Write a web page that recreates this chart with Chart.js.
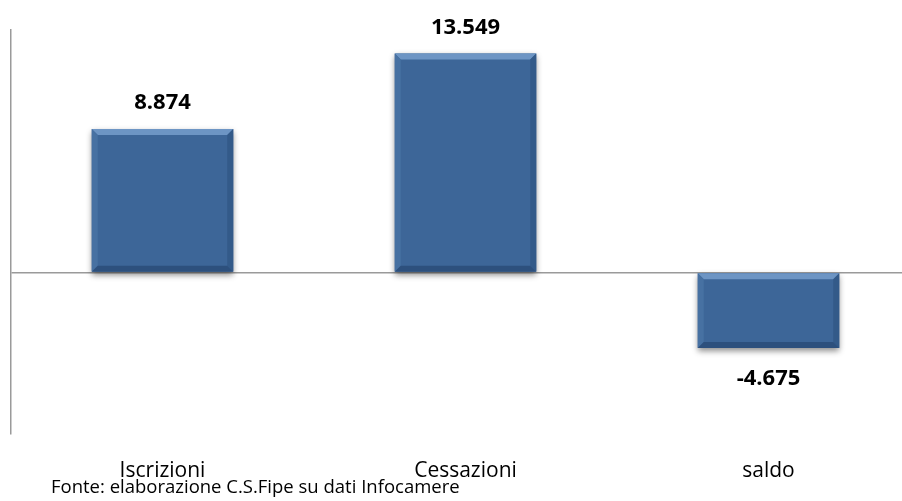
<!DOCTYPE html>
<html>
<head>
<meta charset="utf-8">
<script src="https://cdn.jsdelivr.net/npm/chart.js@4/dist/chart.umd.min.js"></script>
<style>
    html, body { margin: 0; padding: 0; background: #fff; overflow: hidden; }
    #wrap { position: relative; width: 920px; height: 501px; }
    #chart { display: block; }
    #source {
        position: absolute; left: 51px; top: 474px;
        font-family: "Open Sans", sans-serif; font-size: 18.5px; color: #000;
        white-space: nowrap; line-height: 24px;
    }
</style>
</head>
<body>
<div id="wrap">
    <canvas id="chart"></canvas>
    <div id="source">Fonte: elaborazione C.S.Fipe su dati Infocamere</div>
</div>
<script>
// Data
const categories = ['Iscrizioni', 'Cessazioni', 'saldo'];
const values = [8874, 13549, -4675];
const axisMin = -10000;
const axisMax = 15000;

function fmt(v) {
    return v.toLocaleString('it-IT');
}

// Bevel look like the office chart
const bevelPlugin = {
    id: 'bevel',
    beforeDatasetsDraw(chart) {
        const ctx = chart.ctx;
        chart.getDatasetMeta(0).data.forEach(function(bar) {
            const left = bar.x - bar.width / 2;
            const top = Math.min(bar.y, bar.base);
            const h = Math.abs(bar.base - bar.y);
            ctx.save();
            ctx.shadowColor = 'rgba(0,0,0,0.45)';
            ctx.shadowBlur = 6;
            ctx.shadowOffsetY = 3;
            ctx.fillStyle = '#3d6698';
            ctx.fillRect(left, top, bar.width, h);
            ctx.restore();
        });
    },
    afterDatasetsDraw(chart) {
        const ctx = chart.ctx;
        const b = 6;
        chart.getDatasetMeta(0).data.forEach(function(bar) {
            const l = bar.x - bar.width / 2;
            const r = bar.x + bar.width / 2;
            const t = Math.min(bar.y, bar.base);
            const btm = Math.max(bar.y, bar.base);
            ctx.save();
            // top
            ctx.fillStyle = '#6d95c4';
            ctx.beginPath();
            ctx.moveTo(l, t); ctx.lineTo(r, t); ctx.lineTo(r - b, t + b); ctx.lineTo(l + b, t + b);
            ctx.closePath(); ctx.fill();
            // left
            ctx.fillStyle = '#4771a2';
            ctx.beginPath();
            ctx.moveTo(l, t); ctx.lineTo(l + b, t + b); ctx.lineTo(l + b, btm - b); ctx.lineTo(l, btm);
            ctx.closePath(); ctx.fill();
            // right
            ctx.fillStyle = '#335a89';
            ctx.beginPath();
            ctx.moveTo(r, t); ctx.lineTo(r - b, t + b); ctx.lineTo(r - b, btm - b); ctx.lineTo(r, btm);
            ctx.closePath(); ctx.fill();
            // bottom
            ctx.fillStyle = '#2d507d';
            ctx.beginPath();
            ctx.moveTo(l, btm); ctx.lineTo(l + b, btm - b); ctx.lineTo(r - b, btm - b); ctx.lineTo(r, btm);
            ctx.closePath(); ctx.fill();
            ctx.restore();
        });
        // value labels
        ctx.save();
        ctx.font = 'bold 22px "Open Sans", sans-serif';
        ctx.fillStyle = '#000';
        ctx.textAlign = 'center';
        ctx.textBaseline = 'middle';
        chart.getDatasetMeta(0).data.forEach(function(bar, i) {
            const v = values[i];
            const y = v >= 0 ? bar.y - 26 : bar.y + 31;
            ctx.fillText(fmt(v), bar.x, y);
        });
        ctx.restore();
    }
};

function initChart() {
    const ctx = document.getElementById('chart').getContext('2d');
    new Chart(ctx, {
        type: 'bar',
        data: {
            labels: categories,
            datasets: [{
                data: values,
                backgroundColor: 'rgba(0,0,0,0)',
                borderWidth: 0,
                categoryPercentage: 1,
                barPercentage: 0.467
            }]
        },
        options: {
            responsive: false,
            animation: false,
            events: [],
            layout: { padding: { top: 30, left: 11, right: 0, bottom: 0 } },
            plugins: {
                legend: { display: false },
                tooltip: { enabled: false }
            },
            scales: {
                x: {
                    grid: { display: false, drawTicks: false },
                    border: { display: false },
                    afterFit: function(scale) { scale.height = 67; },
                    ticks: {
                        color: '#000',
                        padding: 24,
                        maxRotation: 0,
                        font: { family: '"Open Sans", sans-serif', size: 21 }
                    }
                },
                y: {
                    min: axisMin,
                    max: axisMax,
                    ticks: { display: false, stepSize: 5000 },
                    grid: {
                        drawTicks: false,
                        color: function(c) { return c.tick && c.tick.value === 0 ? '#9a9a9a' : 'rgba(0,0,0,0)'; },
                        lineWidth: 1.5
                    },
                    border: { display: true, color: '#9a9a9a', width: 1.5 }
                }
            }
        },
        plugins: [bevelPlugin]
    });
}

const cv = document.getElementById('chart');
cv.width = 920;
cv.height = 501;
initChart();
</script>
</body>
</html>
